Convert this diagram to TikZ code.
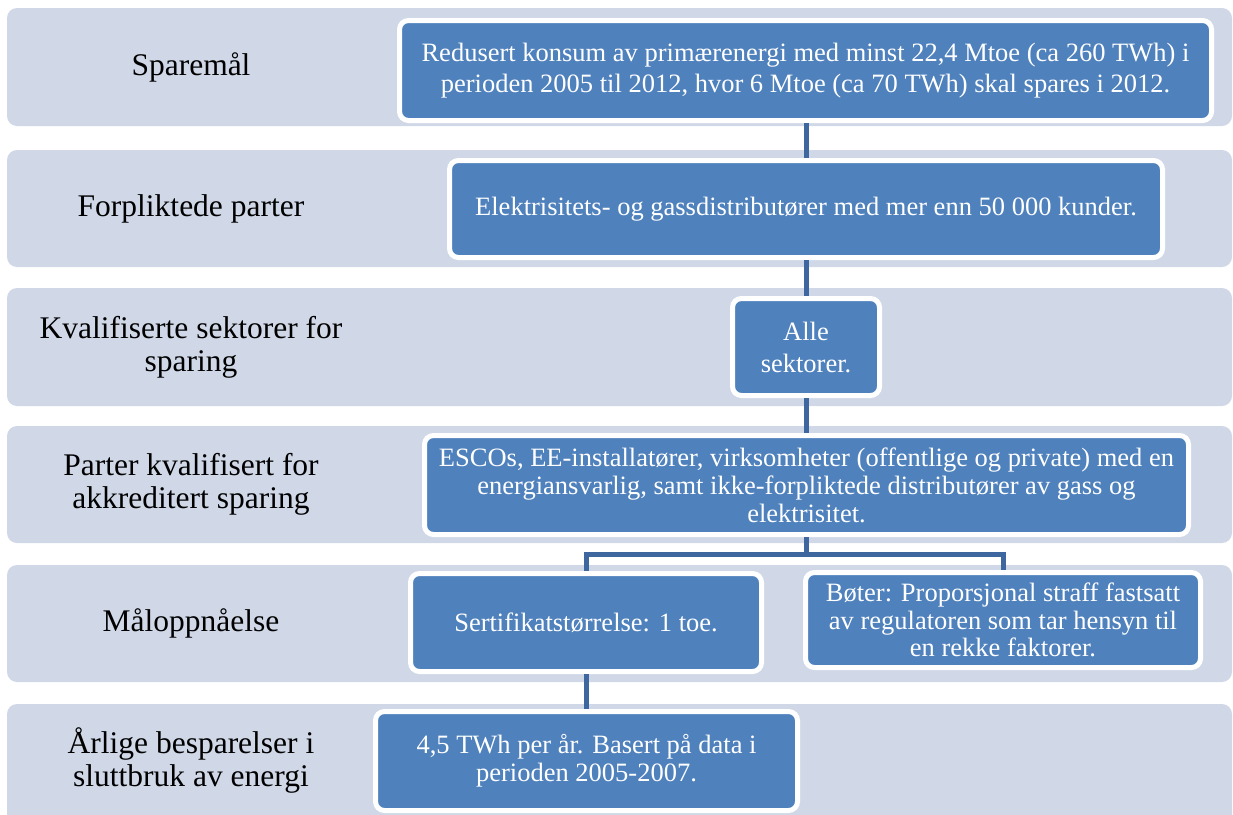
\documentclass[tikz,border=0pt]{standalone}
\usepackage{fontspec}
\setmainfont{Liberation Serif}
\definecolor{rowfill}{HTML}{D0D8E8}
\definecolor{boxblue}{HTML}{4F81BD}
\definecolor{connblue}{RGB}{61,103,158}
\tikzset{
  rowbg/.style={fill=rowfill, rounded corners=10pt},
  rowlabel/.style={text=black, align=center, inner sep=0pt, font=\fontsize{31.5}{33}\selectfont},
  bluebox/.style={rectangle, rounded corners=9pt, fill=boxblue, draw=white, line width=5pt,
    text=white, align=center, inner sep=0pt, anchor=center,
    font=\fontsize{26.5}{31}\selectfont},
  conn/.style={draw=connblue, line width=5pt}
}
\begin{document}
\begin{tikzpicture}[x=1pt,y=-1pt]
\clip (0,0) rectangle (1233,814);
\fill[white] (0,0) rectangle (1233,814);
% row backgrounds
\fill[rowbg] (7,8) rectangle (1232,126);
\fill[rowbg] (7,150) rectangle (1232,267);
\fill[rowbg] (7,288) rectangle (1232,406);
\fill[rowbg] (7,426) rectangle (1232,543);
\fill[rowbg] (7,565) rectangle (1232,682);
\fill[rowbg] (7,704) rectangle (1232,830);
% row labels
\node[rowlabel] (l1) at (191,67) {Sparemål};
\node[rowlabel] (l2) at (191,209) {Forpliktede parter};
\node[rowlabel] (l3) at (191,347) {Kvalifiserte sektorer for\\sparing};
\node[rowlabel] (l4) at (191,484) {Parter kvalifisert for\\akkreditert sparing};
\node[rowlabel] (l5) at (191,623) {Måloppnåelse};
\node[rowlabel] (l6) at (191,760) {Årlige besparelser i\\sluttbruk av energi};
% blue boxes
\node[bluebox, minimum width=812pt, minimum height=100pt] (b1) at (805.5,70.5)
  {Redusert konsum av primærenergi med minst 22,4 Mtoe (ca 260 TWh) i\\perioden 2005 til 2012, hvor 6 Mtoe (ca 70 TWh) skal spares i 2012.};
\node[bluebox, minimum width=713pt, minimum height=97pt] (b2) at (806,209)
  {Elektrisitets- og gassdistributører med mer enn 50 000 kunder.};
\node[bluebox, minimum width=147pt, minimum height=97pt, font=\fontsize{26.5}{32}\selectfont] (b3) at (806,347)
  {Alle\\sektorer.};
\node[bluebox, minimum width=764pt, minimum height=99pt, font=\fontsize{26.5}{28}\selectfont] (b4) at (806.5,485)
  {ESCOs, EE-installatører, virksomheter (offentlige og private) med en\\energiansvarlig, samt ikke-forpliktede distributører av gass og\\elektrisitet.};
\node[bluebox, minimum width=351pt, minimum height=98pt] (b5a) at (586,622.5)
  {Sertifikatstørrelse: 1 toe.};
\node[bluebox, minimum width=395pt, minimum height=95pt, font=\fontsize{26.5}{27.5}\selectfont] (b5b) at (1003,620)
  {Bøter: Proporsjonal straff fastsatt\\av regulatoren som tar hensyn til\\en rekke faktorer.};
\node[bluebox, minimum width=422pt, minimum height=99pt, font=\fontsize{26.5}{28}\selectfont] (b6) at (586.5,761)
  {4,5 TWh per år. Basert på data i\\perioden 2005-2007.};
% connectors
\coordinate (j) at (806,554);
\draw[conn] (b2.north) -- (b2.north |- b1.south);
\draw[conn] (b3.north) -- (b3.north |- b2.south);
\draw[conn] (b4.north) -- (b4.north |- b3.south);
\draw[conn] (b4.south) -- (b4.south |- j);
\draw[conn] (b5a.north) -- (b5a.north |- j) -- (b5b.north |- j) -- (b5b.north);
\draw[conn] (b6.north) -- (b6.north |- b5a.south);
\end{tikzpicture}
\end{document}
